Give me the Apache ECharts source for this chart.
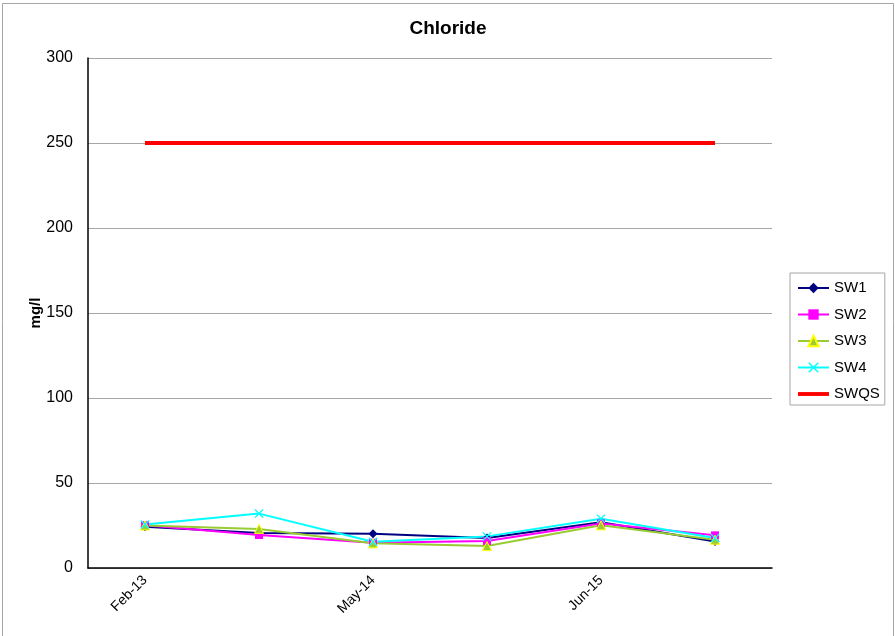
<!DOCTYPE html>
<html>
<head>
<meta charset="utf-8">
<script src="https://cdn.jsdelivr.net/npm/echarts@6/dist/echarts.min.js"></script>
<style>
  html, body { margin: 0; padding: 0; background: #fff; }
  #chart { width: 895px; height: 636px; }
</style>
</head>
<body>
<div id="chart"></div>
<script>
// Sampling dates (only every other one is labelled on the axis)
const categories = ['Feb-13', 'Oct-13', 'May-14', 'Dec-14', 'Jun-15', 'Jan-16'];

// Chloride concentrations, mg/l
const sw1 = [24.3, 20.6, 20.2, 17.6, 26.9, 15.6];
const sw2 = [25.2, 19.4, 14.9, 15.9, 26.2, 19.2];
const sw3 = [25.0, 23.0, 14.5, 12.9, 25.1, 16.6];
const sw4 = [25.6, 32.0, 15.4, 18.6, 29.0, 17.6];
// Surface water quality standard
const swqs = [250, 250, 250, 250, 250, 250];

const yTicks = { min: 0, max: 300, interval: 50 };

const crossPath = 'path://M0,1L1,0L5,4L9,0L10,1L6,5L10,9L9,10L5,6L1,10L0,9L4,5Z';
const thickLinePath = 'path://M0,0L32,0L32,4L0,4Z';
const font = 'Liberation Sans, Arial, sans-serif';

const chart = echarts.init(document.getElementById('chart'), null, { renderer: 'canvas' });

function lineSeries(name, data, color, symbol, size, extra) {
  return Object.assign({
    name: name,
    type: 'line',
    data: data,
    symbol: symbol,
    symbolSize: size,
    showAllSymbol: true,
    lineStyle: { color: color, width: 2 },
    itemStyle: { color: color },
    emphasis: { disabled: true },
    animation: false
  }, extra || {});
}

chart.setOption({
  animation: false,
  textStyle: { fontFamily: font },
  graphic: [{
    type: 'rect',
    shape: { x: 2.5, y: 3.5, width: 891, height: 640 },
    style: { fill: 'none', stroke: '#a6a6a6', lineWidth: 1 },
    silent: true
  }],
  title: {
    text: 'Chloride',
    left: 443,
    top: 14,
    textAlign: 'center',
    textStyle: { fontFamily: font, fontSize: 19, fontWeight: 'bold', color: '#000' }
  },
  legend: {
    orient: 'vertical',
    left: 790,
    top: 273,
    padding: [7.5, 5, 3.5, 7],
    itemGap: 11.5,
    itemWidth: 31,
    itemHeight: 13,
    borderColor: '#a6a6a6',
    borderWidth: 1,
    textStyle: { fontFamily: font, fontSize: 15, color: '#000' },
    selectedMode: false,
    data: [
      'SW1', 'SW2', 'SW3', 'SW4',
      { name: 'SWQS', icon: thickLinePath, itemStyle: { color: '#ff0000' } }
    ]
  },
  grid: { left: 88, right: 123, top: 58, bottom: 68, containLabel: false },
  xAxis: {
    type: 'category',
    data: categories,
    boundaryGap: true,
    axisLine: { lineStyle: { color: '#000', width: 1.5 } },
    axisTick: { show: false },
    axisLabel: {
      interval: 1,
      rotate: 45,
      margin: 10,
      fontFamily: font,
      fontSize: 14,
      color: '#000'
    },
    splitLine: { show: false }
  },
  yAxis: {
    type: 'value',
    min: yTicks.min,
    max: yTicks.max,
    interval: yTicks.interval,
    name: 'mg/l',
    nameLocation: 'middle',
    nameGap: 45,
    nameMoveOverlap: false,
    nameRotate: 90,
    nameTextStyle: { fontFamily: font, fontSize: 15, fontWeight: 'bold', color: '#000' },
    axisLine: { show: true, lineStyle: { color: '#000', width: 1.5 } },
    axisTick: { show: false },
    axisLabel: { fontFamily: font, fontSize: 16, color: '#000', margin: 15 },
    splitLine: { lineStyle: { color: '#a6a6a6', width: 1 } }
  },
  series: [
    lineSeries('SW1', sw1, '#000080', 'diamond', 9),
    lineSeries('SW2', sw2, '#ff00ff', 'rect', 8),
    lineSeries('SW3', sw3, '#99cc33', 'triangle', 9, {
      itemStyle: { color: '#99cc33', borderColor: '#ffff00', borderWidth: 1 }
    }),
    lineSeries('SW4', sw4, '#00ffff', crossPath, 9),
    lineSeries('SWQS', swqs, '#ff0000', 'none', 0, {
      lineStyle: { color: '#ff0000', width: 4 }
    })
  ]
});
</script>
</body>
</html>
